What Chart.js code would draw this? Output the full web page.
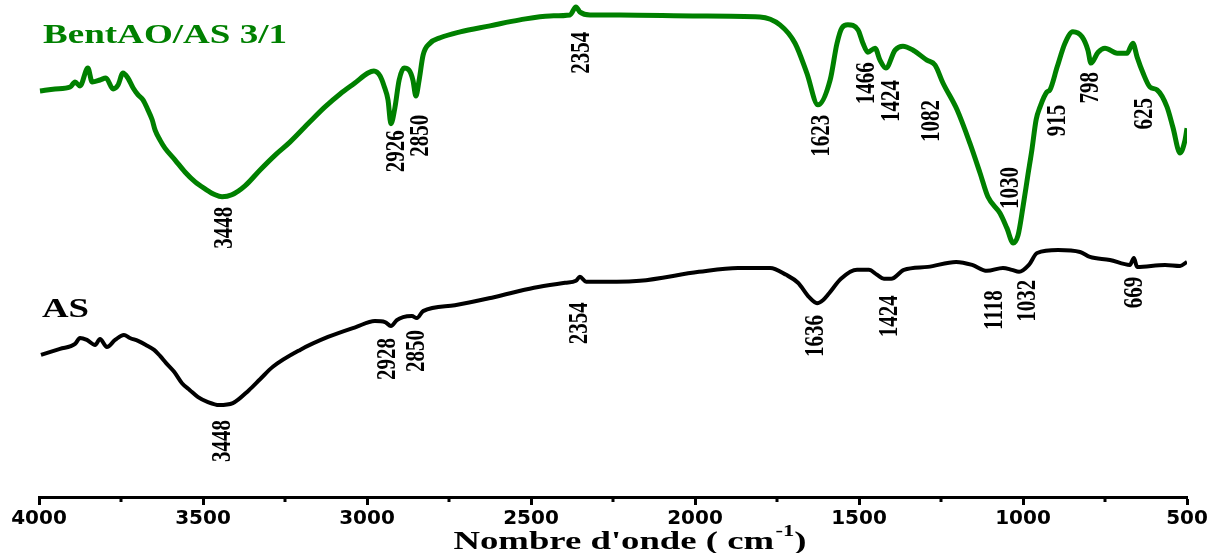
<!DOCTYPE html>
<html>
<head>
<meta charset="utf-8">
<script src="https://cdn.jsdelivr.net/npm/chart.js@4.4.1/dist/chart.umd.min.js"></script>
<style>
  html, body { margin: 0; padding: 0; background: #fff; }
  #wrap { width: 1213px; height: 553px; }
</style>
</head>
<body>
<div id="wrap"><canvas id="ftir"></canvas></div>
<script>
// BentAO/AS 3/1 spectrum (wavenumber cm-1, transmittance a.u.)
const greenWn = [3997, 3951, 3905, 3890, 3875, 3851, 3838, 3814, 3796, 3774, 3759, 3744, 3729, 3713, 3698,
  3683, 3668, 3655, 3646, 3631, 3616, 3585, 3555, 3524, 3494, 3463, 3442, 3412, 3372, 3326, 3280, 3235,
  3174, 3128, 3082, 3037, 2997, 2979, 2960, 2948, 2936, 2927, 2915, 2902, 2887, 2872, 2860, 2851, 2841,
  2829, 2808, 2777, 2716, 2625, 2534, 2442, 2381, 2363, 2351, 2320, 2229, 1985, 1802, 1741, 1695, 1659,
  1625, 1588, 1567, 1552, 1534, 1503, 1488, 1473, 1451, 1436, 1418, 1390, 1366, 1335, 1293, 1268, 1244,
  1201, 1162, 1131, 1107, 1070, 1049, 1030, 1015, 1000, 985, 973, 960, 948, 927, 918, 896, 872, 848, 820,
  802, 793, 771, 750, 713, 683, 665, 652, 634, 613, 591, 561, 543, 521, 506, 500];
const greenT = [81.7, 82.1, 82.5, 83.5, 82.7, 86.3, 83.5, 83.9, 84.3, 82.1, 82.9, 85.3, 84.3, 82.3, 80.9,
  79.9, 77.9, 75.9, 73.8, 71.8, 70.2, 67.8, 65.4, 63.4, 62.0, 60.8, 60.4, 60.8, 62.6, 65.8, 68.8, 71.4,
  75.5, 78.5, 81.1, 83.3, 85.3, 85.7, 84.7, 82.7, 79.9, 75.1, 78.3, 83.9, 86.3, 85.9, 83.9, 80.7, 83.9,
  88.9, 91.3, 92.4, 93.6, 94.8, 96.0, 96.8, 97.0, 98.6, 97.6, 97.0, 97.0, 96.8, 96.6, 95.0, 91.3, 85.3,
  78.9, 83.9, 91.3, 94.4, 95.0, 94.0, 91.3, 89.5, 90.3, 87.9, 86.3, 89.9, 90.7, 89.9, 87.9, 86.9, 83.3,
  77.9, 71.2, 65.2, 60.4, 57.1, 54.1, 51.1, 52.7, 58.4, 64.8, 69.8, 75.9, 78.5, 81.5, 81.9, 86.5, 91.3,
  93.6, 92.6, 89.9, 87.3, 89.5, 90.3, 89.3, 89.3, 91.3, 88.5, 85.3, 82.5, 81.9, 78.5, 74.4, 69.2, 71.8, 74.2];

// AS spectrum
const blackWn = [3994, 3936, 3890, 3875, 3854, 3829, 3814, 3793, 3768, 3741, 3723, 3698, 3674, 3649, 3631,
  3613, 3588, 3564, 3540, 3515, 3485, 3451, 3409, 3360, 3326, 3287, 3204, 3119, 3034, 2976, 2945, 2927,
  2909, 2890, 2863, 2848, 2829, 2732, 2613, 2491, 2396, 2363, 2351, 2332, 2238, 2168, 1988, 1869, 1771,
  1722, 1686, 1652, 1628, 1610, 1591, 1555, 1506, 1470, 1445, 1424, 1402, 1363, 1290, 1204, 1155, 1110,
  1061, 1034, 1012, 982, 957, 893, 826, 796, 735, 674, 662, 652, 567, 521, 500];
const blackT = [28.6, 29.8, 30.8, 32.0, 31.6, 30.6, 31.8, 30.2, 31.6, 32.6, 32.0, 31.4, 30.6, 29.6, 28.4,
  27.0, 25.2, 22.9, 21.5, 20.1, 19.1, 18.5, 18.9, 21.5, 23.7, 26.2, 29.6, 32.2, 34.2, 35.4, 35.2, 34.4,
  35.6, 36.2, 36.4, 36.0, 37.4, 38.6, 40.2, 42.1, 43.1, 43.5, 44.3, 43.3, 43.3, 43.5, 45.3, 46.1, 46.1,
  44.7, 43.1, 40.2, 39.0, 39.6, 41.0, 43.9, 45.7, 45.7, 44.7, 43.9, 43.9, 45.7, 46.3, 47.3, 46.7, 45.5,
  46.1, 45.7, 45.3, 46.7, 49.1, 49.7, 49.3, 48.3, 47.7, 46.7, 48.1, 46.3, 46.7, 46.5, 47.3];

// peak labels: wavenumber, label top (a.u.), horizontal nudge (px)
const greenPeaks = [3448, 2926, 2850, 2354, 1623, 1466, 1424, 1082, 1030, 915, 798, 625];
const greenPeakTop = [58.4, 73.8, 76.9, 93.6, 76.9, 87.5, 83.9, 79.9, 66.4, 78.9, 85.5, 80.3];
const greenPeakDx = [5, 6, 5, 3, 3, -3, 8, -64, -2, 7, 2, -1];
const blackPeaks = [3448, 2928, 2850, 2354, 1636, 1424, 1118, 1032, 669];
const blackPeakTop = [15.5, 32.0, 33.6, 39.2, 36.6, 40.6, 41.6, 43.7, 44.3];
const blackPeakDx = [3, -3, 1, 1, 1, 6, 10, 15, 3];

const xTicks = [4000, 3500, 3000, 2500, 2000, 1500, 1000, 500];
const minorTicks = [3750, 3250, 2750, 2250, 1750, 1250, 750];

const GREEN = '#008000';
const SERIF = '"Liberation Serif", "Times New Roman", serif';

function toPoints(xs, ys) {
    return xs.map((x, i) => ({ x: x, y: ys[i] }));
}

// text stretched horizontally like the original figure
function wideText(ctx, txt, x, y, sx, rotate) {
    ctx.save();
    ctx.translate(x, y);
    ctx.scale(sx, 1);
    if (rotate) {
        ctx.rotate(-Math.PI / 2);
        ctx.textAlign = 'right';
        ctx.textBaseline = 'middle';
    }
    ctx.fillText(txt, 0, 0);
    ctx.restore();
}

const annotations = {
    id: 'annotations',
    afterDraw(chart) {
        const ctx = chart.ctx;
        const xs = chart.scales.x, ys = chart.scales.y;
        const area = chart.chartArea;

        // minor ticks
        ctx.save();
        ctx.strokeStyle = '#000';
        ctx.lineWidth = 3;
        minorTicks.forEach(v => {
            const px = Math.round(xs.getPixelForValue(v));
            ctx.beginPath();
            ctx.moveTo(px, area.bottom);
            ctx.lineTo(px, area.bottom + 5);
            ctx.stroke();
        });
        ctx.restore();

        // peak labels
        ctx.save();
        ctx.font = 'bold 21px ' + SERIF;
        ctx.fillStyle = '#000';
        greenPeaks.forEach((p, i) => {
            wideText(ctx, String(p), xs.getPixelForValue(p) + greenPeakDx[i], ys.getPixelForValue(greenPeakTop[i]), 1.33, true);
        });
        blackPeaks.forEach((p, i) => {
            wideText(ctx, String(p), xs.getPixelForValue(p) + blackPeakDx[i], ys.getPixelForValue(blackPeakTop[i]), 1.33, true);
        });
        ctx.restore();

        // series names
        ctx.save();
        ctx.font = 'bold 28px ' + SERIF;
        ctx.textBaseline = 'alphabetic';
        ctx.fillStyle = GREEN;
        let w = ctx.measureText('BentAO/AS 3/1').width;
        wideText(ctx, 'BentAO/AS 3/1', 43, 43, 244 / w, false);
        ctx.fillStyle = '#000';
        w = ctx.measureText('AS').width;
        wideText(ctx, 'AS', 42, 317, 47 / w, false);
        ctx.restore();

        // axis title with superscript
        ctx.save();
        ctx.fillStyle = '#000';
        ctx.textBaseline = 'alphabetic';
        const main = "Nombre d'onde ( cm";
        ctx.font = 'bold 26px ' + SERIF;
        const w1 = ctx.measureText(main).width;
        const w3 = ctx.measureText(')').width;
        ctx.font = 'bold 16px ' + SERIF;
        const w2 = ctx.measureText('-1').width + 1;
        const sx = 353 / (w1 + w2 + w3);
        const x0 = 630 - 353 / 2;
        const base = 549;
        ctx.font = 'bold 26px ' + SERIF;
        wideText(ctx, main, x0, base, sx, false);
        ctx.font = 'bold 16px ' + SERIF;
        wideText(ctx, '-1', x0 + (w1 + 1) * sx, base - 13, sx, false);
        ctx.font = 'bold 26px ' + SERIF;
        wideText(ctx, ')', x0 + (w1 + w2) * sx, base, sx, false);
        ctx.restore();
    }
};

const config = {
    type: 'line',
    data: {
        datasets: [{
            label: 'BentAO/AS 3/1',
            data: toPoints(greenWn, greenT),
            borderColor: GREEN,
            borderWidth: 5,
            pointRadius: 0,
            cubicInterpolationMode: 'monotone',
            fill: false
        }, {
            label: 'AS',
            data: toPoints(blackWn, blackT),
            borderColor: '#000',
            borderWidth: 4,
            pointRadius: 0,
            cubicInterpolationMode: 'monotone',
            fill: false
        }]
    },
    options: {
        responsive: true,
        maintainAspectRatio: false,
        animation: false,
        layout: { padding: { left: 39, right: 26, top: 0, bottom: 0 } },
        plugins: {
            legend: { display: false },
            tooltip: { enabled: false }
        },
        scales: {
            x: {
                type: 'linear',
                reverse: true,
                min: 500,
                max: 4000,
                afterBuildTicks(scale) {
                    scale.ticks = xTicks.map(v => ({ value: v }));
                },
                afterFit(scale) {
                    scale.height = 56;
                },
                border: { display: true, color: '#000', width: 3 },
                grid: { drawOnChartArea: false, color: '#000', tickColor: '#000', tickLength: 8, tickWidth: 3 },
                ticks: {
                    color: '#000',
                    padding: 2,
                    maxRotation: 0,
                    callback: v => String(v),
                    font: { family: '"DejaVu Sans", sans-serif', weight: 'bold', size: 20 }
                }
            },
            y: {
                display: false,
                min: 0,
                max: 100
            }
        }
    },
    plugins: [annotations]
};

const ftirChart = new Chart(document.getElementById('ftir').getContext('2d'), config);
</script>
</body>
</html>
